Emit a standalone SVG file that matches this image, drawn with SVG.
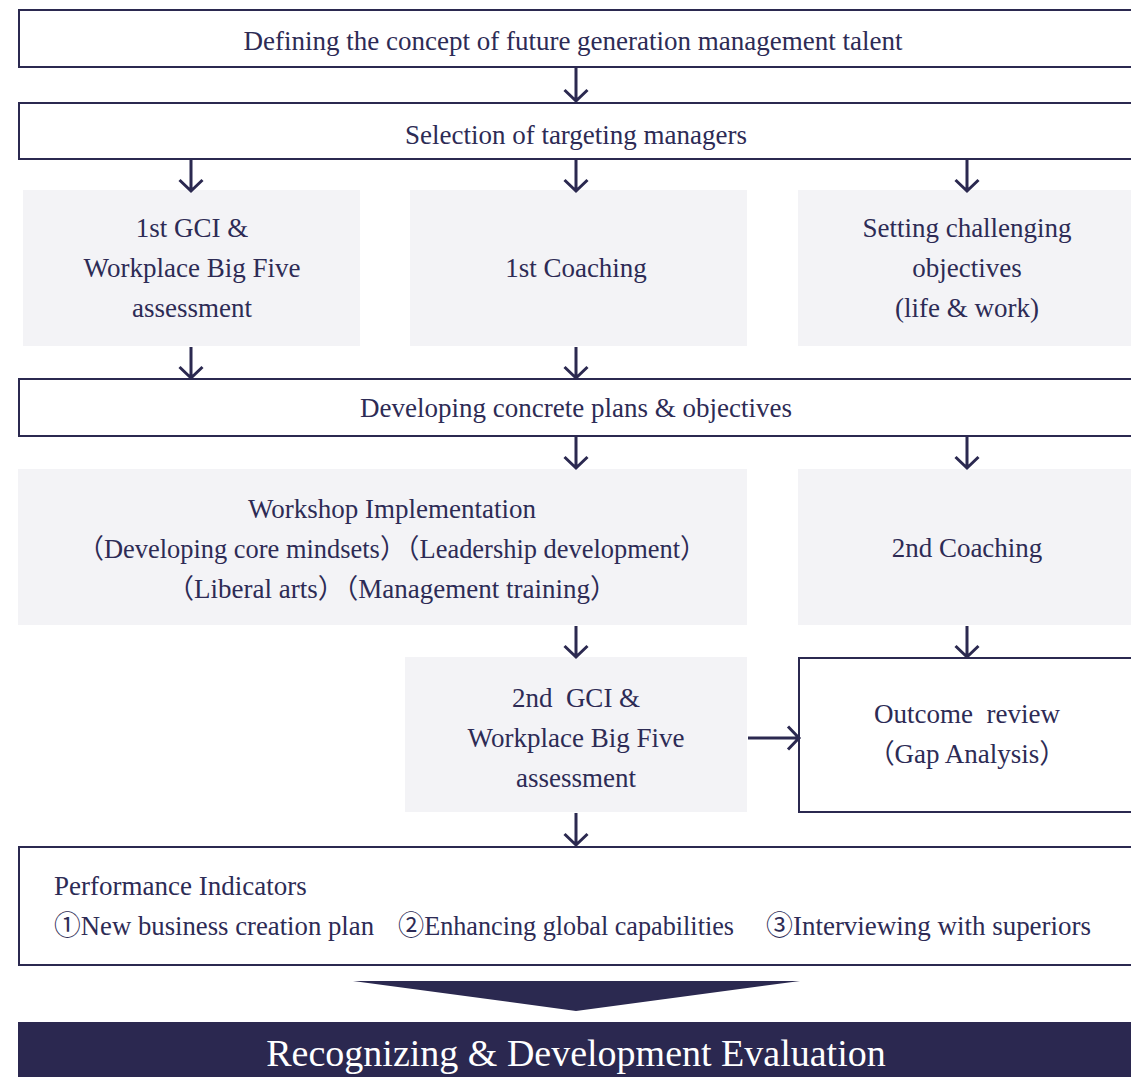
<svg xmlns="http://www.w3.org/2000/svg" width="1131" height="1077" viewBox="0 0 1131 1077">
<defs>
<style>
.t{font-family:"Liberation Serif","Noto Sans CJK JP",serif;font-size:27px;fill:#2d2b55;text-anchor:middle;white-space:pre}
.l{text-anchor:start}
.ob{fill:#fff;stroke:#2b2950;stroke-width:2}
.gb{fill:#f3f3f6}
.c{fill:none;stroke:#2b2950;stroke-width:3}
</style>
</defs>
<rect width="1131" height="1077" fill="#fff"/>
<g id="n1"><rect class="ob" x="19" y="10" width="1130" height="57"/><text class="t" x="573" y="50">Defining the concept of future generation management talent</text></g>
<g id="n2"><rect class="ob" x="19" y="103" width="1130" height="56"/><text class="t" x="576" y="144">Selection of targeting managers</text></g>
<g id="n3"><rect class="gb" x="23" y="190" width="337" height="156"/><text class="t" x="192" y="237">1st GCI &amp;</text><text class="t" x="192" y="277">Workplace Big Five</text><text class="t" x="192" y="317">assessment</text></g>
<g id="n4"><rect class="gb" x="410" y="190" width="337" height="156"/><text class="t" x="576" y="277">1st Coaching</text></g>
<g id="n5"><rect class="gb" x="798" y="190" width="340" height="156"/><text class="t" x="967" y="237">Setting challenging</text><text class="t" x="967" y="277">objectives</text><text class="t" x="967" y="317">(life &amp; work)</text></g>
<g id="n6"><rect class="ob" x="19" y="379" width="1130" height="57"/><text class="t" x="576" y="417">Developing concrete plans &amp; objectives</text></g>
<g id="n7"><rect class="gb" x="18" y="469" width="729" height="156"/><text class="t" x="392" y="518">Workshop Implementation</text><text class="t" x="392" y="558" textLength="629" lengthAdjust="spacingAndGlyphs">（Developing core mindsets）（Leadership development）</text><text class="t" x="392" y="598">（Liberal arts）（Management training）</text></g>
<g id="n8"><rect class="gb" x="798" y="469" width="340" height="156"/><text class="t" x="967" y="557">2nd Coaching</text></g>
<g id="n9"><rect class="gb" x="405" y="657" width="342" height="155"/><text class="t" x="576" y="707">2nd  GCI &amp;</text><text class="t" x="576" y="747">Workplace Big Five</text><text class="t" x="576" y="787">assessment</text></g>
<g id="n10"><rect class="ob" x="799" y="658" width="350" height="154"/><text class="t" x="967" y="723">Outcome  review</text><text class="t" x="967" y="763">（Gap Analysis）</text></g>
<g id="n11"><rect class="ob" x="19" y="847" width="1130" height="118"/><text class="t l" x="54" y="895">Performance Indicators</text><text class="t l" x="54" y="935" textLength="320" lengthAdjust="spacingAndGlyphs">①New business creation plan</text><text class="t l" x="398" y="935" textLength="336" lengthAdjust="spacingAndGlyphs">②Enhancing global capabilities</text><text class="t l" x="766" y="935" textLength="325" lengthAdjust="spacingAndGlyphs">③Interviewing with superiors</text></g>
<g id="n12"><polygon points="353,981 800,981 576,1011" fill="#2b2950"/><rect x="18" y="1022" width="1120" height="56" fill="#2b2850"/><text class="t" x="576" y="1066" style="fill:#fff;font-size:38px">Recognizing &amp; Development Evaluation</text></g>
<g id="connectors">
<path class="c" d="M576 68V100M564.5 90L576 101L587.5 90"/>
<path class="c" d="M191 160V190M179.5 180L191 191L202.5 180"/>
<path class="c" d="M576 160V190M564.5 180L576 191L587.5 180"/>
<path class="c" d="M967 160V190M955.5 180L967 191L978.5 180"/>
<path class="c" d="M191 347V377M179.5 367L191 378L202.5 367"/>
<path class="c" d="M576 347V377M564.5 367L576 378L587.5 367"/>
<path class="c" d="M576 437V467M564.5 457L576 468L587.5 457"/>
<path class="c" d="M967 437V467M955.5 457L967 468L978.5 457"/>
<path class="c" d="M576 626V656M564.5 646L576 657L587.5 646"/>
<path class="c" d="M967 626V656M955.5 646L967 657L978.5 646"/>
<path class="c" d="M748 738H798M788 726.5L799 738L788 749.5"/>
<path class="c" d="M576 813V844M564.5 834L576 845L587.5 834"/>
</g>
</svg>
